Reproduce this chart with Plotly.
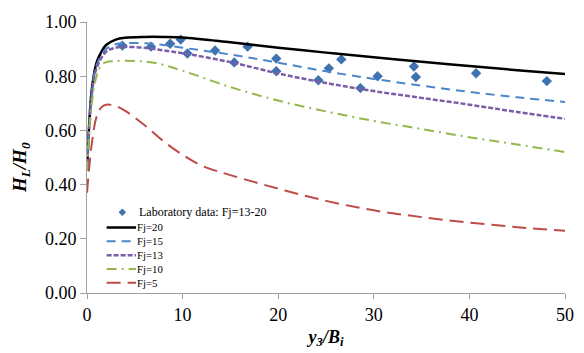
import plotly.graph_objects as go

# Laboratory data (Fj = 13-20)
lab_x = [3.7, 6.7, 8.7, 9.8, 10.5, 13.4, 15.4, 16.8, 19.8, 19.8, 24.2, 25.3, 26.6,
         28.6, 30.4, 34.2, 34.4, 40.7, 48.1]
lab_y = [0.913, 0.909, 0.92, 0.935, 0.884, 0.895, 0.851, 0.909, 0.865, 0.818, 0.785,
         0.829, 0.862, 0.756, 0.80, 0.836, 0.797, 0.811, 0.782]

# Model curves
x20 = [0, 0.5, 1, 1.5, 2, 3, 4, 6, 8, 10, 15, 20, 25, 30, 35, 40, 45, 50]
y20 = [0.45, 0.75, 0.85, 0.89, 0.915, 0.935, 0.942, 0.945, 0.945, 0.943, 0.925, 0.905,
       0.887, 0.87, 0.853, 0.838, 0.822, 0.808]

x15 = [0, 0.5, 1, 2, 3, 4, 6, 8, 10, 15, 20, 25, 30, 35, 40, 45, 50]
y15 = [0.45, 0.74, 0.84, 0.9, 0.918, 0.922, 0.922, 0.915, 0.905, 0.88, 0.85, 0.818,
       0.79, 0.765, 0.742, 0.722, 0.705]

x13 = [0, 0.5, 1, 2, 3, 4, 6, 8, 10, 15, 20, 25, 30, 35, 40, 45, 50]
y13 = [0.45, 0.73, 0.83, 0.89, 0.905, 0.908, 0.905, 0.895, 0.885, 0.852, 0.81, 0.775,
       0.745, 0.72, 0.695, 0.668, 0.643]

x10 = [0, 0.5, 1, 1.5, 2, 3, 5, 7, 10, 15, 20, 25, 30, 35, 40, 45, 50]
y10 = [0.45, 0.7, 0.8, 0.84, 0.852, 0.856, 0.856, 0.85, 0.82, 0.76, 0.71, 0.67, 0.635,
       0.605, 0.575, 0.548, 0.52]

x5 = [0, 0.5, 1, 1.5, 2, 3, 4, 6, 8, 10, 12, 15, 20, 25, 30, 35, 40, 45, 50]
y5 = [0.37, 0.55, 0.65, 0.685, 0.695, 0.69, 0.672, 0.62, 0.56, 0.51, 0.47, 0.435,
      0.385, 0.34, 0.305, 0.28, 0.26, 0.243, 0.23]

x_ticks = [0, 10, 20, 30, 40, 50]
y_ticks = [0.0, 0.2, 0.4, 0.6, 0.8, 1.0]

lab_name = "Laboratory data: Fj=13-20"
curve_names = ["Fj=20", "Fj=15", "Fj=13", "Fj=10", "Fj=5"]
curves_x = [x20, x15, x13, x10, x5]
curves_y = [y20, y15, y13, y10, y5]

serif = "'Liberation Serif', 'Times New Roman', 'DejaVu Serif', serif"
marker_color = "#3F72AF"
line_styles = [
    dict(color="black", width=2.5),
    dict(color="#4A86C8", width=2, dash="9px,6px"),
    dict(color="#7B5EA7", width=2.5, dash="5px,2px"),
    dict(color="#94B84E", width=2, dash="10px,5px,2px,5px"),
    dict(color="#BE4B48", width=2, dash="14px,7px"),
]

fig = go.Figure()
fig.add_trace(go.Scatter(x=lab_x, y=lab_y, mode="markers", name=lab_name,
                         showlegend=False,
                         marker=dict(symbol="diamond", size=8, color=marker_color)))
for cx, cy, nm, ls in zip(curves_x, curves_y, curve_names, line_styles):
    fig.add_trace(go.Scatter(x=cx, y=cy, mode="lines", name=nm, line_shape="spline",
                             showlegend=False, line=ls))

# Hand-drawn compact legend, like the original
L, R, T, B = 87, 574, 22, 297
W, H = R - L, B - T
px = lambda v: (v - L) / W
py = lambda v: (B - v) / H

leg_font = 10.8
step = 1.3 * leg_font
row0 = 215
shapes = []
annotations = []
dx, dy = 3.8 / W, 3.8 / H
shapes.append(dict(type="path", xref="paper", yref="paper",
                   path=f"M {px(123)-dx},{py(row0)} L {px(123)},{py(row0)+dy} "
                        f"L {px(123)+dx},{py(row0)} L {px(123)},{py(row0)-dy} Z",
                   fillcolor=marker_color, line=dict(width=0)))
annotations.append(dict(xref="paper", yref="paper", x=px(139), y=py(row0), text=lab_name,
                        showarrow=False, xanchor="left", yanchor="middle", borderpad=0,
                        font=dict(family=serif, size=12)))
rows = [row0 + 1.5 + step * (i + 1) for i in range(len(curve_names))]
for yy, ls in zip(rows, line_styles):
    shapes.append(dict(type="line", xref="paper", yref="paper",
                       x0=px(107), x1=px(137), y0=py(yy), y1=py(yy),
                       line=dict(color=ls["color"], width=ls["width"],
                                 dash=ls.get("dash", "solid"))))
annotations.append(dict(xref="paper", yref="paper", x=px(137),
                        y=py((rows[0] + rows[-1]) / 2), text="<br>".join(curve_names),
                        showarrow=False, xanchor="left", yanchor="middle", align="left",
                        borderpad=0, font=dict(family=serif, size=leg_font)))

# y-axis title placed like the original (slightly below the centre)
annotations.append(dict(xref="paper", yref="paper", x=px(20), y=py(170),
                        text="<b><i>H<sub>L</sub>/H<sub>0</sub></i></b>",
                        textangle=-90, showarrow=False, xanchor="center",
                        yanchor="middle", font=dict(family=serif, size=19)))

fig.update_layout(
    width=584, height=353,
    margin=dict(l=L, r=584 - R, t=T, b=353 - B),
    paper_bgcolor="white", plot_bgcolor="white",
    font=dict(family=serif, color="black"),
    showlegend=False,
    shapes=shapes, annotations=annotations,
    xaxis=dict(range=[0, 50], tickvals=x_ticks, showgrid=False, zeroline=False,
               showline=True, linecolor="#A0A0A0", linewidth=1,
               ticks="outside", ticklen=5, tickcolor="#A0A0A0",
               tickfont=dict(family=serif, size=18),
               title=dict(text="<b><i>y<sub>3</sub>/B<sub>i</sub></i></b>",
                          font=dict(family=serif, size=18), standoff=6)),
    yaxis=dict(range=[0, 1], tickvals=y_ticks, tickformat=".2f", showgrid=False,
               zeroline=False, showline=True, linecolor="#A0A0A0", linewidth=1,
               ticks="outside", ticklen=6, tickcolor="#A0A0A0",
               tickfont=dict(family=serif, size=18)),
)

fig.write_html("out.html")
